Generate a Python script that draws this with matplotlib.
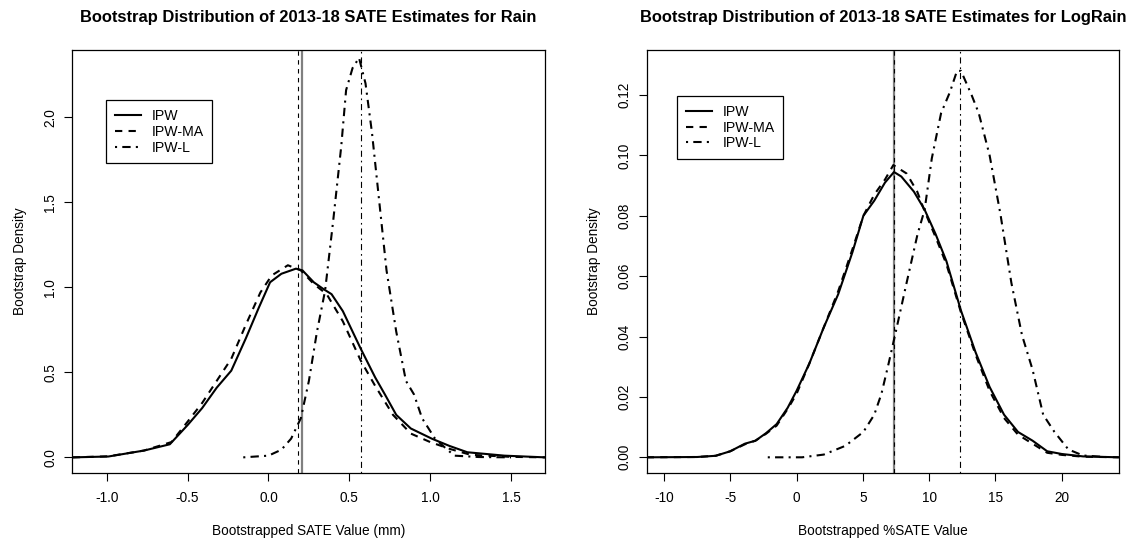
import matplotlib
matplotlib.use("Agg")
import matplotlib.pyplot as plt
from matplotlib.ticker import FormatStrFormatter

plt.rcParams['font.family'] = ['Liberation Sans', 'DejaVu Sans']

# ---------------- Data: Rain (left panel) ----------------
rain_ipw_x = [-1.21, -0.99, -0.77, -0.61, -0.50, -0.41, -0.32, -0.23, -0.14, -0.06,
              0.01, 0.08, 0.17, 0.21, 0.28, 0.34, 0.39, 0.46, 0.57, 0.66, 0.72,
              0.79, 0.88, 1.01, 1.12, 1.23, 1.46, 1.71]
rain_ipw_y = [0.0, 0.005, 0.04, 0.077, 0.19, 0.29, 0.41, 0.51, 0.70, 0.88,
              1.03, 1.08, 1.11, 1.10, 1.03, 0.99, 0.96, 0.86, 0.64, 0.47, 0.37,
              0.25, 0.17, 0.11, 0.067, 0.03, 0.01, 0.0]

rain_ma_x = [-1.21, -0.99, -0.77, -0.60, -0.50, -0.41, -0.32, -0.23, -0.14, -0.05,
             0.02, 0.12, 0.20, 0.28, 0.36, 0.46, 0.57, 0.66, 0.77, 0.88, 1.00,
             1.12, 1.25, 1.50, 1.71]
rain_ma_y = [0.0, 0.006, 0.04, 0.09, 0.21, 0.32, 0.45, 0.58, 0.78, 0.97,
             1.07, 1.13, 1.10, 1.02, 0.96, 0.80, 0.57, 0.42, 0.25, 0.14, 0.09,
             0.05, 0.015, 0.003, 0.0]

rain_l_x = [-0.156, 0.0, 0.08, 0.14, 0.20, 0.25, 0.30, 0.35, 0.40, 0.45, 0.48,
            0.52, 0.56, 0.60, 0.64, 0.68, 0.73, 0.79, 0.85, 0.90, 0.95, 1.03,
            1.10, 1.15, 1.30, 1.50]
rain_l_y = [0.0, 0.01, 0.045, 0.11, 0.23, 0.45, 0.74, 0.98, 1.39, 1.83, 2.16,
            2.29, 2.35, 2.20, 1.91, 1.55, 1.10, 0.74, 0.45, 0.37, 0.23, 0.11,
            0.05, 0.01, 0.002, 0.0]

rain_vlines = {"IPW": 0.210, "IPW-MA": 0.181, "IPW-L": 0.573}

# ---------------- Data: LogRain (right panel) ----------------
log_ipw_x = [-11.3, -7.5, -6.1, -5.0, -3.9, -3.1, -2.3, -1.5, -0.67, 0.0, 0.96,
             2.05, 3.14, 4.22, 5.04, 5.86, 6.67, 7.35, 7.9, 8.85, 9.66, 10.48,
             11.3, 12.4, 13.5, 14.56, 15.65, 16.7, 17.8, 18.9, 20.0, 21.6, 24.3]
log_ipw_y = [0.0, 0.0001, 0.0005, 0.002, 0.0045, 0.0055, 0.008, 0.011, 0.0164,
             0.022, 0.031, 0.043, 0.054, 0.068, 0.080, 0.085, 0.091, 0.0945,
             0.093, 0.088, 0.082, 0.074, 0.065, 0.0486, 0.0348, 0.0233, 0.0141,
             0.0084, 0.0055, 0.002, 0.0011, 0.0003, 0.0]

log_ma_x = [-11.3, -7.5, -6.1, -5.0, -3.9, -3.1, -2.3, -1.5, -0.67, 0.0, 0.96,
            2.05, 3.14, 4.22, 5.04, 5.86, 6.67, 7.3, 8.3, 9.1, 9.66, 10.48,
            11.3, 12.4, 13.5, 14.56, 15.65, 16.7, 17.8, 18.9, 20.0, 21.6, 24.3]
log_ma_y = [0.0, 0.0001, 0.0005, 0.002, 0.0043, 0.0055, 0.0078, 0.0105, 0.016,
            0.021, 0.031, 0.043, 0.055, 0.069, 0.080, 0.087, 0.092, 0.0968,
            0.094, 0.088, 0.0815, 0.073, 0.064, 0.048, 0.034, 0.022, 0.013,
            0.0075, 0.0045, 0.0015, 0.0008, 0.0002, 0.0]

log_l_x = [-2.17, 0.42, 2.05, 3.68, 5.04, 5.86, 6.4, 6.94, 7.49, 8.3, 9.12,
           9.66, 10.2, 10.9, 11.57, 12.1, 12.4, 13.2, 13.74, 14.56, 15.37,
           16.2, 17.0, 17.8, 18.6, 19.45, 20.5, 21.6, 23.3]
log_l_y = [0.0, 0.0, 0.0009, 0.0038, 0.0084, 0.0141, 0.021, 0.031, 0.0417,
           0.0578, 0.0738, 0.082, 0.099, 0.114, 0.121, 0.128, 0.128, 0.120,
           0.114, 0.100, 0.0807, 0.0578, 0.0405, 0.029, 0.0141, 0.0084,
           0.0026, 0.0006, 0.0001]

log_vlines = {"IPW": 7.37, "IPW-MA": 7.33, "IPW-L": 12.33}

labels = ["IPW", "IPW-MA", "IPW-L"]
titles = ["Bootstrap Distribution of 2013-18 SATE Estimates for Rain",
          "Bootstrap Distribution of 2013-18 SATE Estimates for LogRain"]
xlabels = ["Bootstrapped SATE Value (mm)", "Bootstrapped %SATE Value"]
ylabel = "Bootstrap Density"

rain_xticks = [-1.0, -0.5, 0.0, 0.5, 1.0, 1.5]
rain_yticks = [0.0, 0.5, 1.0, 1.5, 2.0]
log_xticks = [-10, -5, 0, 5, 10, 15, 20]
log_yticks = [0.00, 0.02, 0.04, 0.06, 0.08, 0.10, 0.12]

# ---------------- Styles ----------------
LW = 1.5
DASH = (0, (3.5, 3.0))
DOTDASH = (0, (1.0, 2.5, 4.0, 2.5))
VDASH = (0, (4, 4))
VDOTDASH = (0, (1.5, 3.5, 5.5, 3.5))
FS = 9.8

fig = plt.figure(figsize=(11.30, 5.42), dpi=100)
axL = fig.add_axes([0.0640, 0.1273, 0.4183, 0.7804])
axR = fig.add_axes([0.5723, 0.1273, 0.4180, 0.7804])

panels = [
    (axL, (rain_ipw_x, rain_ipw_y), (rain_ma_x, rain_ma_y), (rain_l_x, rain_l_y),
     rain_vlines, (-1.213, 1.710), (-0.092, 2.396), rain_xticks, rain_yticks, "%.1f", "%.1f",
     (0.072, 0.881)),
    (axR, (log_ipw_x, log_ipw_y), (log_ma_x, log_ma_y), (log_l_x, log_l_y),
     log_vlines, (-11.30, 24.32), (-0.0052, 0.1349), log_xticks, log_yticks, "%d", "%.2f",
     (0.065, 0.891)),
]

for i, (ax, ipw, ma, lw_, vl, xl, yl, xt, yt, xf, yf, legpos) in enumerate(panels):
    ax.axvline(vl["IPW"], color="#808080", lw=1.6, zorder=1)
    ax.axvline(vl["IPW-MA"], color="black", lw=0.8, linestyle=VDASH, zorder=2)
    ax.axvline(vl["IPW-L"], color="black", lw=0.8, linestyle=VDOTDASH, zorder=2)
    ax.plot(ipw[0], ipw[1], color="black", lw=LW, linestyle="-", label=labels[0], zorder=3)
    ax.plot(ma[0], ma[1], color="black", lw=LW, linestyle=DASH, label=labels[1], zorder=3)
    ax.plot(lw_[0], lw_[1], color="black", lw=LW, linestyle=DOTDASH, label=labels[2], zorder=3)

    ax.set_xlim(*xl)
    ax.set_ylim(*yl)
    ax.set_xticks(xt)
    ax.set_yticks(yt)
    ax.xaxis.set_major_formatter(FormatStrFormatter(xf))
    ax.yaxis.set_major_formatter(FormatStrFormatter(yf))
    ax.tick_params(axis='both', direction='out', length=5.8, width=0.8,
                   labelsize=FS, color='black')
    ax.tick_params(axis='x', pad=7.5)
    ax.tick_params(axis='y', pad=5)
    for lab in ax.get_yticklabels():
        lab.set_rotation(90)
        lab.set_va('center')
    for sp in ax.spines.values():
        sp.set_linewidth(0.9)

    ax.set_xlabel(xlabels[i], fontsize=FS)
    ax.xaxis.set_label_coords(0.5, -0.137)
    ax.xaxis.label.set_va('center')
    ax.set_ylabel(ylabel, fontsize=FS)
    ax.yaxis.set_label_coords(-0.111, 0.5)
    ax.yaxis.label.set_va('center')

    ax.text(0.5, (542 - 17.3 - 69) / 423.0, titles[i], transform=ax.transAxes,
            ha='center', va='center', fontsize=11.9, fontweight='bold')

    leg = ax.legend(loc='upper left', bbox_to_anchor=legpos, borderaxespad=0,
                    fancybox=False, framealpha=1, edgecolor='black', fontsize=10.2,
                    handlelength=1.8, handletextpad=0.75, labelspacing=0.12,
                    borderpad=0.62)
    leg.get_frame().set_linewidth(0.9)

fig.savefig("out.png", dpi=100)
